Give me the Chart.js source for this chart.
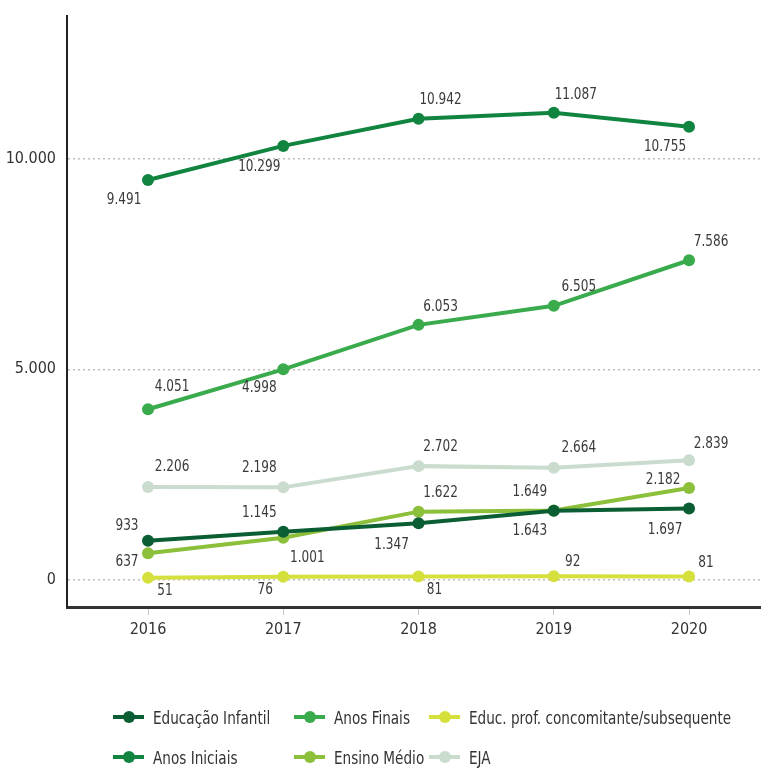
<!DOCTYPE html>
<html>
<head>
<meta charset="utf-8">
<script src="https://cdn.jsdelivr.net/npm/chart.js@4/dist/chart.umd.min.js"></script>
<style>
    body { margin: 0; background: #fff; overflow: hidden; }
    #wrap { position: relative; width: 761px; height: 770px; overflow: hidden; }
    #matriculasChart { position: absolute; left: 0; top: -5px; }
    #legend {
        position: absolute; left: 113px; top: 703px;
        display: grid; grid-auto-flow: column;
        grid-template-rows: 28px 28px;
        grid-template-columns: 181px 135px auto;
        row-gap: 12px;
        font-family: "DejaVu Sans Condensed", "Liberation Sans Narrow", sans-serif;
        font-size: 18px; color: #333; white-space: nowrap;
    }
    .item { display: flex; align-items: center; }
    .item span.txt { display: inline-block; transform: scaleX(0.84); transform-origin: left center; }
    .mark { position: relative; width: 31px; height: 4px; margin-right: 9px; flex: none; }
    .mark i { position: absolute; left: 10px; top: -4px; width: 12px; height: 12px; border-radius: 50%; }
</style>
</head>
<body>
<div id="wrap">
    <canvas id="matriculasChart" width="767" height="775"></canvas>
    <div id="legend"></div>
</div>
<script>
const anos = [2016, 2017, 2018, 2019, 2020];
const yTicks = [0, 5000, 10000];

const seriesNames = ["Educação Infantil", "Anos Iniciais", "Anos Finais", "Ensino Médio",
    "Educ. prof. concomitante/subsequente", "EJA"];
const educacaoInfantil = [933, 1145, 1347, 1643, 1697];
const anosIniciais = [9491, 10299, 10942, 11087, 10755];
const anosFinais = [4051, 4998, 6053, 6505, 7586];
const ensinoMedio = [637, 1001, 1622, 1649, 2182];
const educProf = [51, 76, 81, 92, 81];
const eja = [2206, 2198, 2702, 2664, 2839];

const cores = ["#0b5e34", "#118540", "#3aab4c", "#8cbf3a", "#d6e03c", "#c9dccd"];

// where each value label sits relative to its point (dx, dy)
const labelOffsets = [
    [[-21, -15], [-24, -19], [-27, 22], [-24, 20], [-24, 21]],
    [[-24, 20], [-24, 21], [22, -19], [22, -18], [-24, 20]],
    [[24, -22], [-24, 18], [22, -18], [25, -19], [22, -18]],
    [[-21, 9], [24, 20], [22, -19], [-24, -19], [-26, -8]],
    [[17, 13], [-18, 13], [16, 13], [19, -14], [17, -14]],
    [[24, -20], [-24, -20], [22, -19], [25, -20], [22, -17]]
];

const fonte = '"DejaVu Sans Condensed", "Liberation Sans Narrow", sans-serif';

function formatBR(v) {
    return String(v).replace(/\B(?=(\d{3})+(?!\d))/g, ".");
}

const valores = [educacaoInfantil, anosIniciais, anosFinais, ensinoMedio, educProf, eja];
const datasets = valores.map(function(serie, i) {
    return {
        label: seriesNames[i],
        data: serie.map(function(v, j) { return { x: anos[j], y: v }; }),
        borderColor: cores[i],
        backgroundColor: cores[i],
        pointBackgroundColor: cores[i],
        pointBorderWidth: 0,
        pointRadius: 6,
        borderWidth: 4,
        tension: 0,
        labelOffsets: labelOffsets[i]
    };
});

// draws the number next to every point (squeezed a bit, the original font is narrow)
const valueLabels = {
    id: "valueLabels",
    afterDatasetsDraw(chart) {
        let ctx = chart.ctx;
        chart.data.datasets.forEach(function(ds, i) {
            chart.getDatasetMeta(i).data.forEach(function(pt, j) {
                let off = ds.labelOffsets[j];
                ctx.save();
                ctx.translate(pt.x + off[0], pt.y + off[1]);
                ctx.scale(0.84, 1);
                ctx.font = "16px " + fonte;
                ctx.fillStyle = "#3a3a3a";
                ctx.textAlign = "center";
                ctx.textBaseline = "middle";
                ctx.fillText(formatBR(valores[i][j]), 0, 0);
                ctx.restore();
            });
        });
    }
};

let ctx = document.getElementById("matriculasChart").getContext("2d");
let myChart = new Chart(ctx, {
    type: "line",
    data: { datasets: datasets },
    options: {
        responsive: false,
        animation: false,
        layout: { padding: { top: 8, right: 0, left: 0, bottom: 0 } },
        plugins: {
            legend: { display: false },
            tooltip: { enabled: false }
        },
        scales: {
            x: {
                type: "linear",
                min: 2015.401,
                max: 2020.532,
                afterBuildTicks: function(s) { s.ticks = anos.map(function(v) { return { value: v }; }); },
                afterFit: function(s) { s.height = 163; },
                grid: { drawOnChartArea: false, drawTicks: true, tickLength: 8, color: "#c8c8c8" },
                border: { display: true, color: "#333", width: 3 },
                ticks: {
                    padding: 5,
                    color: "#333",
                    font: { family: fonte, size: 16 },
                    callback: function(v) { return String(v); }
                }
            },
            y: {
                min: -640,
                max: 13390,
                afterBuildTicks: function(s) { s.ticks = yTicks.map(function(v) { return { value: v }; }); },
                afterFit: function(s) { s.width = 67; },
                grid: { drawTicks: false, color: "#bdbdbd", lineWidth: 1.5 },
                border: { display: true, color: "#222", width: 2, dash: [2, 3] },
                ticks: {
                    padding: 11,
                    color: "#333",
                    font: { family: fonte, size: 16 },
                    callback: function(v) { return formatBR(v); }
                }
            }
        }
    },
    plugins: [valueLabels]
});

// legend, column by column like the original
let legendBox = document.getElementById("legend");
seriesNames.forEach(function(nome, i) {
    let item = document.createElement("div");
    item.className = "item";
    item.innerHTML = '<span class="mark" style="background:' + cores[i] + '"><i style="background:' +
        cores[i] + '"></i></span><span class="txt">' + nome + '</span>';
    legendBox.appendChild(item);
});
</script>
</body>
</html>
